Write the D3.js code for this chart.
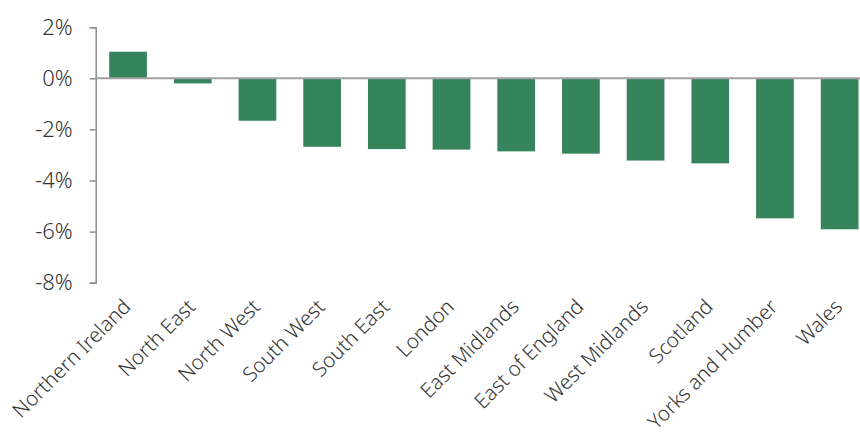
<!DOCTYPE html>
<html>
<head>
<meta charset="utf-8">
<script src="https://cdn.jsdelivr.net/npm/d3@7"></script>
<style>
  body { margin: 0; background: #fff; }
</style>
</head>
<body>
<div id="chart"></div>
<script>
// 지역별 변화율 (%)
const regions = ['Northern Ireland', 'North East', 'North West', 'South West', 'South East', 'London',
  'East Midlands', 'East of England', 'West Midlands', 'Scotland', 'Yorks and Humber', 'Wales'];
const changes = [1.04, -0.2, -1.66, -2.68, -2.77, -2.79, -2.86, -2.95, -3.22, -3.33, -5.48, -5.91];
const yTicks = [2, 0, -2, -4, -6, -8];

const FONT = '"Noto Sans", "Open Sans", sans-serif';
const width = 860, height = 432;
const svg = d3.select('#chart').append('svg')
  .attr('width', width)
  .attr('height', height)
  .style('display', 'block');

const x = d3.scaleBand()
  .domain(regions)
  .range([95.7, 872])
  .paddingInner(0.417)
  .paddingOuter(0.2085);

const y = d3.scaleLinear()
  .domain([-8, 2])
  .range([282.7, 27.2]);

// y축
const yAxis = svg.append('g')
  .attr('transform', 'translate(95.7,0)')
  .call(d3.axisLeft(y).tickValues(yTicks).tickSize(6).tickPadding(17)
    .tickFormat(d => d + '%'));
yAxis.attr('font-family', FONT).attr('font-size', 22).attr('font-weight', 300);
yAxis.select('.domain').attr('stroke', '#8c8c8c').attr('stroke-width', 1.5);
yAxis.selectAll('.tick line').attr('stroke', '#8c8c8c').attr('stroke-width', 1.5);
yAxis.selectAll('.tick text').attr('fill', '#333');

// 막대
svg.append('g').selectAll('rect')
  .data(changes)
  .join('rect')
  .attr('x', (d, i) => x(regions[i]))
  .attr('width', x.bandwidth())
  .attr('y', d => y(Math.max(0, d)))
  .attr('height', d => Math.abs(y(d) - y(0)))
  .attr('fill', '#36845c');

// 0% 기준선
svg.append('line')
  .attr('x1', 95.7).attr('x2', width)
  .attr('y1', y(0)).attr('y2', y(0))
  .attr('stroke', '#a0a0a0')
  .attr('stroke-width', 2);

// x축 라벨 (45도 회전)
svg.append('g').selectAll('text')
  .data(regions)
  .join('text')
  .attr('transform', d => `translate(${x(d) + x.bandwidth() / 2 + 4},308) rotate(-45)`)
  .attr('text-anchor', 'end')
  .attr('fill', '#333')
  .attr('font-family', FONT)
  .attr('font-weight', 300)
  .attr('font-size', 20.5)
  .text(d => d);
</script>
</body>
</html>
